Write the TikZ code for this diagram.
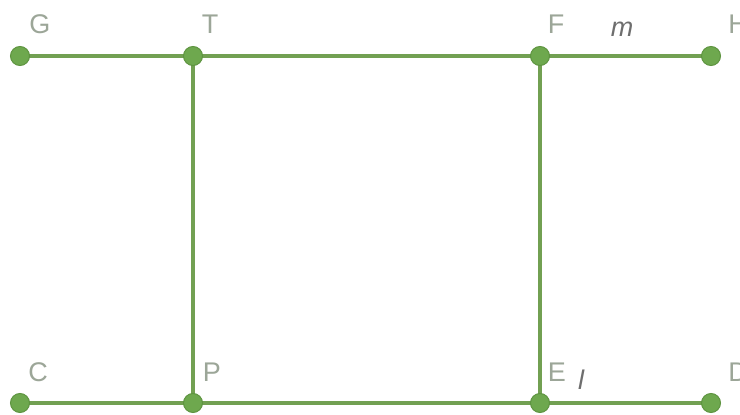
\documentclass[tikz,border=0pt]{standalone}
\usepackage{fontspec}
\setmainfont{Liberation Sans}
\definecolor{lgreen}{HTML}{72A052}
\definecolor{dgreen}{HTML}{5E9440}
\definecolor{dotfill}{HTML}{6EA84E}
\definecolor{lblgray}{HTML}{9CA698}
\definecolor{vargray}{HTML}{6E6E6E}
\begin{document}
\begin{tikzpicture}[x=1pt,y=-1pt,
  pt/.style={circle,fill=dotfill,draw=dgreen,line width=1pt,minimum size=19pt,inner sep=0pt},
  seg/.style={lgreen,line width=3.5pt},
  lbl/.style={text=lblgray,font=\fontsize{27}{27}\selectfont,inner sep=0pt,anchor=base},
  var/.style={text=vargray,font=\fontsize{27}{27}\itshape\selectfont,inner sep=0pt,anchor=base}]
\useasboundingbox (0,0) rectangle (740,415);
\fill[white] (0,0) rectangle (740,415);
\coordinate (G) at (20,56);
\coordinate (T) at (193,56);
\coordinate (F) at (540,56);
\coordinate (H) at (711,56);
\coordinate (C) at (20,403);
\coordinate (P) at (193,403);
\coordinate (E) at (540,403);
\coordinate (D) at (711,403);
\draw[seg] (G) -- (H);
\draw[seg] (C) -- (D);
\draw[seg] (T) -- (P);
\draw[seg] (F) -- (E);
\foreach \p in {G,T,F,H,C,P,E,D} \node[pt] (n\p) at (\p) {};
\node[lbl] (lG) at (40,33) {G};
\node[lbl] (lT) at (210,33) {T};
\node[lbl] (lF) at (556,33) {F};
\node[lbl] (lH) at (738,33) {H};
\node[var] (lm) at (622,36) {m};
\node[lbl] (lC) at (38,381) {C};
\node[lbl] (lP) at (212,381) {P};
\node[lbl] (lE) at (557,381) {E};
\node[var] (ll) at (581,389) {l};
\node[lbl] (lD) at (738,381) {D};
\end{tikzpicture}
\end{document}
